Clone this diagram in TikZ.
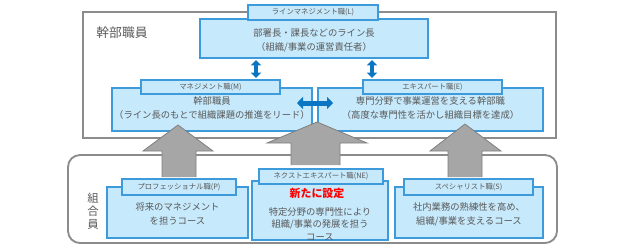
\documentclass[tikz,border=0pt]{standalone}
\usepackage{fontspec}
\setmainfont{Noto Sans CJK JP}
\usepackage{tikz}
\usetikzlibrary{arrows.meta}
\definecolor{boxfill}{HTML}{C6E9FB}
\definecolor{boxline}{HTML}{3D9BDB}
\definecolor{linkblue}{HTML}{0A75C2}
\definecolor{textgray}{HTML}{595959}
\definecolor{framegray}{HTML}{8C8C8C}
\definecolor{arrowfill}{HTML}{A6A6A6}
\definecolor{arrowline}{HTML}{7F7F7F}
\newcommand{\pxu}{0.75pt}

\begin{document}
\begin{tikzpicture}[x=0.75pt,y=-0.75pt]
  \tikzset{rolebox/.style={rectangle,draw=boxline,fill=boxfill,line width=0.9pt,inner sep=0pt}}
  \tikzset{roletab/.style={rectangle,draw=boxline,fill=boxfill,line width=0.9pt,inner sep=0pt,font=\fontsize{5.5}{6.6}\selectfont,text=textgray}}
  \tikzset{roletext/.style={align=center,inner sep=0pt,font=\fontsize{7}{10.5}\selectfont,text=textgray}}
  \tikzset{grouplabel/.style={align=center,inner sep=0pt,text=textgray}}
  \tikzset{boxsize/.style 2 args={minimum width={#1*\pxu},minimum height={#2*\pxu}}}
  \tikzset{bluelink/.style={draw=linkblue,line width=3pt,{Triangle[width=7.5pt,length=4pt]}-{Triangle[width=7.5pt,length=4pt]}}}
  \tikzset{uparrow/.style={fill=arrowfill,draw=arrowline,line width=0.6pt,line join=miter}}
  \useasboundingbox (0,0) rectangle (630,248);
  % group frames
  \draw[framegray,line width=1.4pt] (83,12) rectangle (556,138);
  \draw[framegray,line width=1.4pt,rounded corners=9pt] (68,155) rectangle (557,243);
  \node[grouplabel,font=\fontsize{9.6}{11}\selectfont] (kanbu) at (122,33) {幹部職員};
  \node[grouplabel,font=\fontsize{8.5}{9.75}\selectfont] (kumiai) at (93,211) {組\\合\\員};
  % line manager
  \node[rolebox,boxsize={228}{39}] (lbox) at (314,38.5) {};
  \node[roletab,boxsize={130}{15}] (ltab) at (313,12.5) {ラインマネジメント職(L)};
  \node[roletext] (ltext) at (314,40) {部署長・課長などのライン長\\（組織/事業の運営責任者）};
  % management / expert
  \node[rolebox,boxsize={200}{43}] (mbox) at (212,109.5) {};
  \node[roletab,boxsize={139}{14}] (mtab) at (210.5,87) {マネジメント職(M)};
  \node[roletext] (mtext) at (212,108) {幹部職員\\（ライン長のもとで組織課題の推進をリード）};
  \node[rolebox,boxsize={225}{43}] (ebox) at (430.5,109.5) {};
  \node[roletab,boxsize={139}{14}] (etab) at (432.5,87) {エキスパート職(E)};
  \node[roletext] (etext) at (430.5,108) {専門分野で事業運営を支える幹部職\\（高度な専門性を活かし組織目標を達成）};
  % blue links
  \coordinate (lm1) at (256,60);
  \coordinate (lm2) at (256,78);
  \coordinate (le1) at (372,60);
  \coordinate (le2) at (372,78);
  \coordinate (me1) at (297,103);
  \coordinate (me2) at (333,103);
  \draw[bluelink] (lm1) -- (lm2);
  \draw[bluelink] (le1) -- (le2);
  \draw[bluelink,line width=3.75pt,{Triangle[width=9pt,length=4.5pt]}-{Triangle[width=9pt,length=4.5pt]}] (me1) -- (me2);
  % career arrows
  \draw[uparrow] (162,177) -- (162,151) -- (143,151) -- (178,125) -- (213,151) -- (196,151) -- (196,177);
  \draw[uparrow] (291,165) -- (291,143) -- (267,143) -- (317,122) -- (367,143) -- (340,143) -- (340,165);
  \draw[uparrow] (448,177) -- (448,151) -- (430,151) -- (465,124) -- (501,151) -- (482,151) -- (482,177);
  % member courses
  \node[rolebox,boxsize={141}{51}] (pbox) at (177.5,212.5) {};
  \node[roletab,boxsize={114}{16}] (ptab) at (179,187) {プロフェッショナル職(P)};
  \node[roletext] (ptext) at (177.5,214) {将来のマネジメント\\を担うコース};
  \node[rolebox,boxsize={136}{59}] (nebox) at (320,210.5) {};
  \node[roletab,boxsize={124}{15}] (netab) at (321,176.5) {ネクストエキスパート職(NE)};
  \node[roletext,text=red,font=\fontsize{8.2}{10}\selectfont\bfseries] (nenew) at (317,193) {新たに設定};
  \node[roletext,font=\fontsize{7}{9.4}\selectfont] (netext) at (320,224) {特定分野の専門性により\\組織/事業の発展を担う\\コース};
  \node[rolebox,boxsize={148}{51}] (sbox) at (469,212.5) {};
  \node[roletab,boxsize={129}{16}] (stab) at (468.5,187) {スペシャリスト職(S)};
  \node[roletext] (stext) at (469,214) {社内業務の熟練性を高め、\\組織/事業を支えるコース};
\end{tikzpicture}
\end{document}
